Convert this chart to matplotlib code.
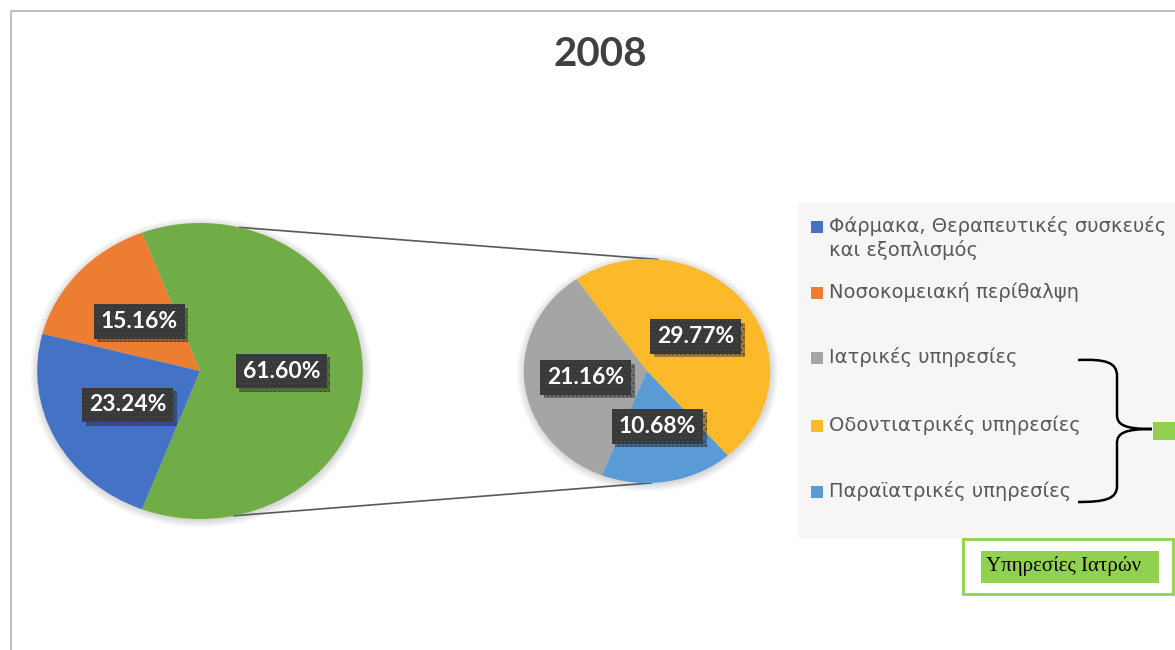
import matplotlib.pyplot as plt
import matplotlib.patheffects as pe
import numpy as np
from matplotlib.patches import Rectangle, Ellipse, PathPatch
from matplotlib.path import Path

# Data
main_labels = ['Υπηρεσίες Ιατρών', 'Νοσοκομειακή περίθαλψη', 'Φάρμακα, Θεραπευτικές συσκευές\nκαι εξοπλισμός']
main_values = [61.60, 15.16, 23.24]
main_colors = ['#70AD47', '#ED7D31', '#4472C4']

sub_labels = ['Οδοντιατρικές υπηρεσίες', 'Ιατρικές υπηρεσίες', 'Παραϊατρικές υπηρεσίες']
sub_values = [29.77, 21.16, 10.68]
sub_colors = ['#FCBA2B', '#A5A5A5', '#5B9BD5']

legend_labels = ['Φάρμακα, Θεραπευτικές συσκευές\nκαι εξοπλισμός', 'Νοσοκομειακή περίθαλψη',
                 'Ιατρικές υπηρεσίες', 'Οδοντιατρικές υπηρεσίες', 'Παραϊατρικές υπηρεσίες']
legend_colors = ['#4472C4', '#ED7D31', '#A5A5A5', '#FCBA2B', '#5B9BD5']
legend_rows = [227, 293, 358, 426, 492]

W, H = 1175, 650
SX = 1.1  # horizontal stretch of the pies

fig = plt.figure(figsize=(W / 100, H / 100), dpi=100)
fig.patch.set_facecolor('white')

# pie axes: x in px/SX, y up
ax = fig.add_axes([0, 0, 1, 1])


def d(x, y):
    return (x / SX, H - y)


c1, r1 = d(200, 371), 148
c2, r2 = d(647, 371), 112

# soft shadows behind the pies
for c, r in [(c1, r1), (c2, r2)]:
    for k in range(8):
        ax.add_patch(Ellipse((c[0] + 0.6, c[1] - 1.5), 2 * (r + k), 2 * (r + k),
                             color='black', alpha=0.018, lw=0, zorder=0))

w1, _ = ax.pie(main_values, colors=main_colors, center=c1, radius=r1,
               startangle=-main_values[0] / 100 * 180, counterclock=True,
               wedgeprops=dict(linewidth=0))
w2, _ = ax.pie(sub_values, colors=sub_colors, center=c2, radius=r2,
               startangle=-49, counterclock=True, wedgeprops=dict(linewidth=0))


def label(center, r, wedges, values):
    for w, v in zip(wedges, values):
        a = np.deg2rad((w.theta1 + w.theta2) / 2)
        pos = (center[0] + 0.5 * r * np.cos(a), center[1] + 0.5 * r * np.sin(a))
        t = ax.text(pos[0], pos[1], f'{v:.2f}%', ha='center', va='center',
                    fontsize=16.5, fontweight='bold', family='Lato', color='white',
                    zorder=5,
                    bbox=dict(boxstyle='square,pad=0.3', fc='#383838', ec='#454545',
                              lw=0, hatch='....'))
        t.get_bbox_patch().set_path_effects(
            [pe.SimplePatchShadow(offset=(2.5, -2.5), alpha=0.35), pe.Normal()])


label(c1, r1, w1, main_values)
label(c2, r2, w2, sub_values)

# connector lines between the pies
for a1, a2 in [(76, 85), (-78, -88)]:
    p1 = (c1[0] + r1 * np.cos(np.deg2rad(a1)), c1[1] + r1 * np.sin(np.deg2rad(a1)))
    p2 = (c2[0] + r2 * np.cos(np.deg2rad(a2)), c2[1] + r2 * np.sin(np.deg2rad(a2)))
    ax.plot([p1[0], p2[0]], [p1[1], p2[1]], color='#595959', lw=1.2, zorder=0.5)

ax.set_xlim(0, W / SX)
ax.set_ylim(0, H)
ax.set_aspect('auto')
ax.axis('off')

# overlay axes in pixel coordinates
ov = fig.add_axes([0, 0, 1, 1])
ov.set_xlim(0, W)
ov.set_ylim(H, 0)
ov.axis('off')
ov.patch.set_alpha(0)

# chart frame
ov.plot([10.5, 10.5, W], [H, 10.5, 10.5], color='#C0C0C0', lw=1.5)

ov.text(600, 55, '2008', ha='center', va='center', fontsize=29,
        fontweight='bold', family='Lato', color='#404040')

# legend
ov.add_patch(Rectangle((798, 203), 400, 335, fc='#F6F6F6', ec='none'))
for lab, col, y in zip(legend_labels, legend_colors, legend_rows):
    ov.add_patch(Rectangle((811, y - 6), 12, 12, fc=col, ec='none'))
    ov.text(829, y - 11, lab, ha='left', va='top', fontsize=14,
            family='DejaVu Sans', color='#595959', linespacing=1.25)

# brace grouping the doctor services
verts = [(1078, 360), (1105, 359), (1117, 362), (1117, 376),
         (1117, 415),
         (1117, 425), (1125, 429), (1152, 429),
         (1125, 429), (1117, 433), (1117, 443),
         (1117, 486),
         (1117, 499), (1105, 502), (1078, 502)]
codes = [Path.MOVETO, Path.CURVE4, Path.CURVE4, Path.CURVE4,
         Path.LINETO,
         Path.CURVE4, Path.CURVE4, Path.CURVE4,
         Path.CURVE4, Path.CURVE4, Path.CURVE4,
         Path.LINETO,
         Path.CURVE4, Path.CURVE4, Path.CURVE4]
ov.add_patch(PathPatch(Path(verts, codes), fc='none', ec='black', lw=1.8))
ov.add_patch(Rectangle((1153, 422), 30, 18, fc='#92D050', ec='none'))

# text box
ov.add_patch(Rectangle((963, 539), 210, 55, fc='white', ec='#92D050', lw=2))
ov.add_patch(Rectangle((981, 551), 178, 32, fc='#92D050', ec='none'))
ov.text(986, 566, main_labels[0], ha='left', va='center', fontsize=15,
        family='Liberation Serif', color='black')

fig.savefig('out.png', dpi=100)
